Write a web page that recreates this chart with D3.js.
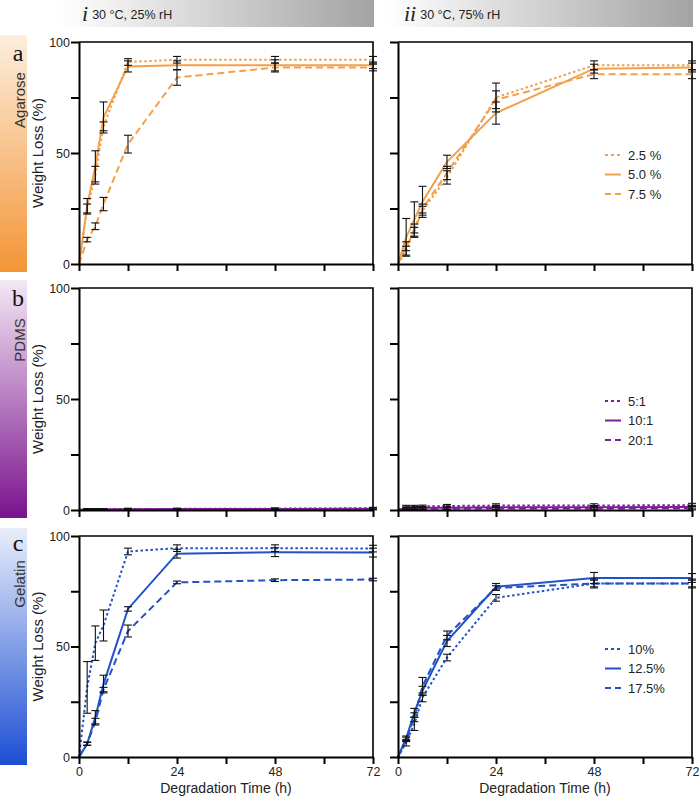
<!DOCTYPE html>
<html><head><meta charset="utf-8">
<script src="https://cdn.jsdelivr.net/npm/d3@7"></script>
<style>body{margin:0;background:#fff}</style>
</head><body>
<svg id="chart" width="700" height="798"></svg>
<script>
// ---------- data ----------
const times = [0, 2, 4, 6, 12, 24, 48, 72];
const xTicks = [0, 12, 24, 36, 48, 60, 72];
const xTickLabels = ["0", "", "24", "", "48", "", "72"];
const yTicks = [0, 25, 50, 75, 100];
const yTickLabels = ["0", "", "50", "", "100"];
const conditionNumerals = ["i", "ii"];
const conditionLabels = ["30 °C, 25% rH", "30 °C, 75% rH"];
const materials = ["Agarose", "PDMS", "Gelatin"];
const panelLetters = ["a", "b", "c"];
const agaroseLegend = ["2.5 %", "5.0 %", "7.5 %"];
const pdmsLegend = ["5:1", "10:1", "20:1"];
const gelatinLegend = ["10%", "12.5%", "17.5%"];

// Agarose, 25% rH
const agaroseI_s1 = [0, 25, 40, 62, 91, 92, 92, 92];
const agaroseI_s1_err = [0, 2, 4, 2, 1.5, 1.5, 1.5, 1.5];
const agaroseI_s2 = [0, 26, 44, 66, 89, 89.5, 89.5, 89.5];
const agaroseI_s2_err = [0, 3.5, 7, 7, 2.5, 2, 2.5, 1.5];
const agaroseI_s3 = [0, 11, 17, 27, 54, 84, 88.5, 88.5];
const agaroseI_s3_err = [0, 1, 1.5, 3, 4, 3.5, 2, 1.5];
// Agarose, 75% rH
const agaroseII_s1 = [0, 6, 16, 24, 39, 75, 89.5, 89.5];
const agaroseII_s1_err = [0, 2, 2, 2, 3, 6.5, 2, 2];
const agaroseII_s2 = [0, 12, 20, 28, 46, 68, 88, 88.5];
const agaroseII_s2_err = [0, 8.5, 8, 7, 3, 5, 2, 2];
const agaroseII_s3 = [0, 8, 14.5, 25, 41, 74, 85.5, 85.5];
const agaroseII_s3_err = [0, 2, 2, 2, 3, 4, 2, 2];
// PDMS, 25% rH
const pdmsI_s1 = [0, 0.3, 0.3, 0.3, 0.5, 0.5, 0.6, 0.8];
const pdmsI_s1_err = [0, 0.3, 0.3, 0.3, 0.3, 0.3, 0.3, 0.4];
const pdmsI_s2 = [0, 0.2, 0.2, 0.2, 0.3, 0.4, 0.5, 0.6];
const pdmsI_s2_err = [0, 0.3, 0.3, 0.3, 0.3, 0.3, 0.3, 0.4];
const pdmsI_s3 = [0, 0.1, 0.1, 0.2, 0.2, 0.3, 0.4, 0.5];
const pdmsI_s3_err = [0, 0.3, 0.3, 0.3, 0.3, 0.3, 0.3, 0.4];
// PDMS, 75% rH
const pdmsII_s1 = [0, 1.5, 1.5, 1.6, 1.8, 2, 2, 2.2];
const pdmsII_s1_err = [0, 0.6, 0.6, 0.6, 0.7, 0.8, 0.8, 0.8];
const pdmsII_s2 = [0, 0.8, 0.9, 1, 1, 1.2, 1.2, 1.3];
const pdmsII_s2_err = [0, 0.6, 0.6, 0.6, 0.7, 0.8, 0.8, 0.8];
const pdmsII_s3 = [0, 0.5, 0.5, 0.6, 0.6, 0.7, 0.7, 0.8];
const pdmsII_s3_err = [0, 0.6, 0.6, 0.6, 0.7, 0.8, 0.8, 0.8];
// Gelatin, 25% rH
const gelatinI_s1 = [0, 31.5, 51.5, 59.5, 93, 94.5, 94.5, 94.3];
const gelatinI_s1_err = [0, 11.7, 7.8, 7, 1.5, 1.5, 1.5, 1.5];
const gelatinI_s2 = [0, 6, 18, 33, 67, 92, 92.7, 92.5];
const gelatinI_s2_err = [0, 0.7, 3, 4, 1, 2, 2, 2];
const gelatinI_s3 = [0, 6, 16, 30.5, 57, 79, 80, 80.3];
const gelatinI_s3_err = [0, 0.7, 1.5, 1, 2.7, 0.6, 0.6, 0.6];
// Gelatin, 75% rH
const gelatinII_s1 = [0, 6.5, 15, 27, 45, 72, 78.5, 78.5];
const gelatinII_s1_err = [0, 1.5, 3, 2, 1.5, 1.5, 1.5, 1.5];
const gelatinII_s2 = [0, 8.5, 20, 30, 52.5, 77, 81, 81];
const gelatinII_s2_err = [0, 1, 2, 2, 2.5, 1.5, 2.5, 2];
const gelatinII_s3 = [0, 8, 18, 32, 55, 76.5, 78.5, 78.5];
const gelatinII_s3_err = [0, 1, 2, 4, 2, 1, 2, 2];

// ---------- styling ----------
const materialColors = ["#f2a04c", "#7d1f98", "#2152c6"];
const barTop = ["#fdeede", "#f4e8f4", "#e9eefa"];
const barBottom = ["#f39536", "#7a138e", "#1d4fd4"];
const dashes = ["2.5,2.5", null, "7,4"];
const legendDashes = ["3,3", null, "6,4"];
const FONT = "Arial, Liberation Sans, Helvetica, sans-serif";
const SERIF = "Times New Roman, Liberation Serif, serif";

const colX = [[79, 373], [398, 692]];
const rowY = [[42, 264], [288, 510], [536, 757]];
const sideBars = [[35, 272], [280, 518], [528, 765]];
const sideLabelY = [100, 340, 584];
const letterY = [61, 306, 551];

const panels = [
  [[agaroseI_s1, agaroseI_s1_err], [agaroseI_s2, agaroseI_s2_err], [agaroseI_s3, agaroseI_s3_err]],
  [[agaroseII_s1, agaroseII_s1_err], [agaroseII_s2, agaroseII_s2_err], [agaroseII_s3, agaroseII_s3_err]],
  [[pdmsI_s1, pdmsI_s1_err], [pdmsI_s2, pdmsI_s2_err], [pdmsI_s3, pdmsI_s3_err]],
  [[pdmsII_s1, pdmsII_s1_err], [pdmsII_s2, pdmsII_s2_err], [pdmsII_s3, pdmsII_s3_err]],
  [[gelatinI_s1, gelatinI_s1_err], [gelatinI_s2, gelatinI_s2_err], [gelatinI_s3, gelatinI_s3_err]],
  [[gelatinII_s1, gelatinII_s1_err], [gelatinII_s2, gelatinII_s2_err], [gelatinII_s3, gelatinII_s3_err]]
];
const legends = [agaroseLegend, pdmsLegend, gelatinLegend];

const svg = d3.select("#chart");
const defs = svg.append("defs");

// header gradient
const hg = defs.append("linearGradient").attr("id", "hdr").attr("x1", 0).attr("x2", 1).attr("y1", 0).attr("y2", 0);
hg.append("stop").attr("offset", 0).attr("stop-color", "#ffffff");
hg.append("stop").attr("offset", 1).attr("stop-color", "#a3a3a3");

const headerX = [[60, 374], [386, 693]];
headerX.forEach((hx, c) => {
  svg.append("rect").attr("x", hx[0]).attr("y", 0).attr("width", hx[1] - hx[0]).attr("height", 27).attr("fill", "url(#hdr)");
  const t = svg.append("text").attr("x", c === 0 ? 82 : 404).attr("y", 21).attr("font-family", FONT).attr("fill", "#222");
  t.append("tspan").attr("font-family", SERIF).attr("font-style", "italic").attr("font-size", 22).text(conditionNumerals[c]);
  t.append("tspan").attr("dx", 4).attr("dy", -2).attr("font-size", 12.5).text(conditionLabels[c]);
});

// side bars
materials.forEach((m, r) => {
  const g = defs.append("linearGradient").attr("id", "side" + r).attr("x1", 0).attr("x2", 0).attr("y1", 0).attr("y2", 1);
  g.append("stop").attr("offset", 0).attr("stop-color", barTop[r]);
  g.append("stop").attr("offset", 1).attr("stop-color", barBottom[r]);
  svg.append("rect").attr("x", 0).attr("y", sideBars[r][0]).attr("width", 27)
    .attr("height", sideBars[r][1] - sideBars[r][0]).attr("fill", "url(#side" + r + ")");
  svg.append("text").attr("transform", `translate(25,${sideLabelY[r]}) rotate(-90)`)
    .attr("text-anchor", "middle").attr("font-family", FONT).attr("font-size", 15).attr("fill", "#333").text(m);
  svg.append("text").attr("x", 18).attr("y", letterY[r]).attr("text-anchor", "middle")
    .attr("font-family", SERIF).attr("font-size", 24).attr("fill", "#111").text(panelLetters[r]);
});

// panels
for (let r = 0; r < 3; r++) {
  for (let c = 0; c < 2; c++) {
    const series = panels[r * 2 + c];
    const x = d3.scaleLinear().domain([0, 72]).range(colX[c]);
    const y = d3.scaleLinear().domain([0, 100]).range([rowY[r][1], rowY[r][0]]);
    const g = svg.append("g");
    const color = materialColors[r];

    // frame (top and right)
    g.append("path").attr("d", `M${x(0)},${y(100)}H${x(72)}V${y(0)}`)
      .attr("fill", "none").attr("stroke", "#000").attr("stroke-width", 1.6);

    // lines
    const line = d3.line().x((d, i) => x(times[i])).y(d => y(d));
    series.forEach((s, k) => {
      g.append("path").datum(s[0]).attr("d", line).attr("fill", "none")
        .attr("stroke", color).attr("stroke-width", 2)
        .attr("stroke-dasharray", dashes[k]);
    });
    // error bars
    series.forEach((s, k) => {
      s[0].forEach((v, i) => {
        const e = s[1][i];
        if (!e) return;
        const xi = x(times[i]);
        const eg = g.append("g").attr("stroke", "#111").attr("stroke-width", 1.1);
        eg.append("line").attr("x1", xi).attr("x2", xi).attr("y1", y(v - e)).attr("y2", y(v + e));
        eg.append("line").attr("x1", xi - 4).attr("x2", xi + 4).attr("y1", y(v - e)).attr("y2", y(v - e));
        eg.append("line").attr("x1", xi - 4).attr("x2", xi + 4).attr("y1", y(v + e)).attr("y2", y(v + e));
      });
    });

    // axes
    const xa = g.append("g").attr("transform", `translate(0,${y(0)})`)
      .call(d3.axisBottom(x).tickValues(xTicks).tickSize(7).tickSizeOuter(0)
        .tickFormat((d, i) => r === 2 ? xTickLabels[i] : ""));
    const ya = g.append("g").attr("transform", `translate(${x(0)},0)`)
      .call(d3.axisLeft(y).tickValues(yTicks).tickSize(8).tickSizeOuter(0)
        .tickFormat((d, i) => c === 0 ? yTickLabels[i] : ""));
    [xa, ya].forEach(a => {
      a.select(".domain").attr("stroke", "#000").attr("stroke-width", 2);
      a.selectAll(".tick line").attr("stroke", "#000").attr("stroke-width", 2);
      a.selectAll(".tick text").attr("font-family", FONT).attr("font-size", 12.5).attr("fill", "#222");
    });
    ya.selectAll(".tick text").attr("x", -9);
    xa.selectAll(".tick text").attr("y", 10);

    if (c === 0) {
      svg.append("text").attr("transform", `translate(43,${(rowY[r][0] + rowY[r][1]) / 2}) rotate(-90)`)
        .attr("text-anchor", "middle").attr("font-family", FONT).attr("font-size", 15).attr("fill", "#222")
        .text("Weight Loss (%)");
    }
    if (r === 2) {
      svg.append("text").attr("x", (colX[c][0] + colX[c][1]) / 2).attr("y", 793)
        .attr("text-anchor", "middle").attr("font-family", FONT).attr("font-size", 14).attr("fill", "#222")
        .text("Degradation Time (h)");
    }
    if (c === 1) {
      const ly0 = [155, 401, 649][r];
      legends[r].forEach((lab, k) => {
        const ly = ly0 + k * 19.5;
        g.append("line").attr("x1", 605).attr("x2", 621).attr("y1", ly).attr("y2", ly)
          .attr("stroke", color).attr("stroke-width", 2).attr("stroke-dasharray", legendDashes[k]);
        g.append("text").attr("x", 628).attr("y", ly + 4.5).attr("font-family", FONT)
          .attr("font-size", 13).attr("fill", "#222").text(lab);
      });
    }
  }
}
</script>
</body></html>
